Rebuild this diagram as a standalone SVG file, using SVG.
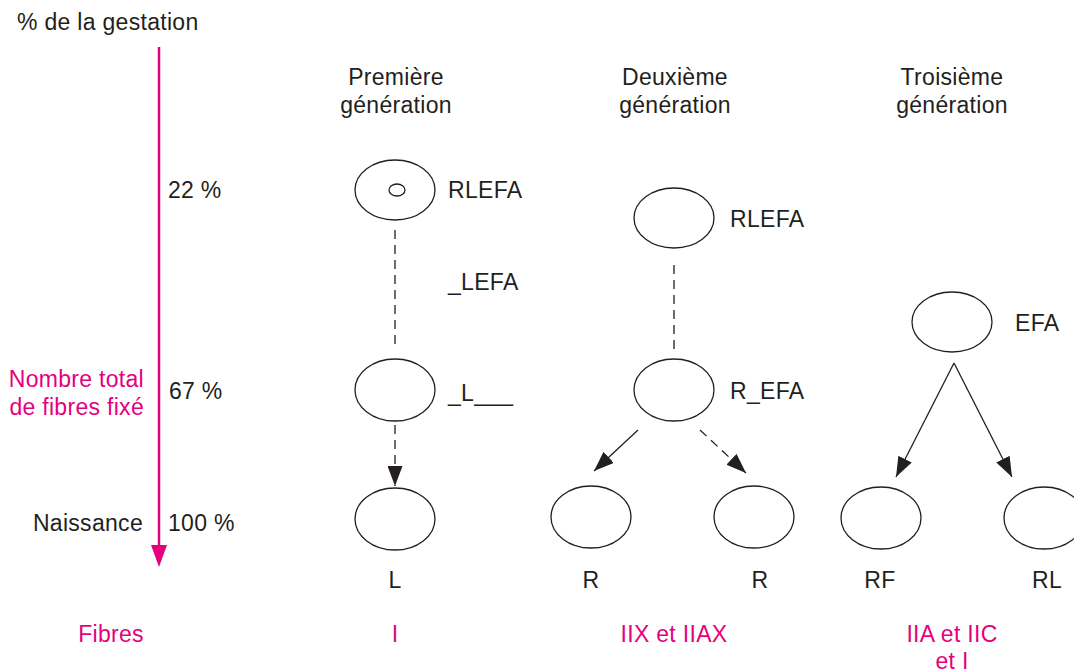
<svg xmlns="http://www.w3.org/2000/svg" width="1074" height="670" viewBox="0 0 1074 670">
  <defs>
    <style>
      text { font-family: "Liberation Sans", Arial, sans-serif; font-size: 23px; letter-spacing: 0.3px; fill: #231f20; }
      .mag { fill: #e6007e; }
      .mid { text-anchor: middle; }
      .end { text-anchor: end; }
      .node { fill: none; stroke: #231f20; stroke-width: 1.3; }
      .edge { fill: none; stroke: #231f20; stroke-width: 1.3; }
      .dash { stroke-dasharray: 9 6; }
    </style>
    <marker id="arr" viewBox="0 0 20 15" refX="20" refY="7.5" markerWidth="20" markerHeight="15" markerUnits="userSpaceOnUse" orient="auto">
      <path d="M0,0 L20,7.5 L0,15 Z" fill="#231f20"/>
    </marker>
  </defs>

  <rect width="1074" height="670" fill="#ffffff"/>

  <!-- time axis -->
  <g id="axis">
    <text x="17" y="30">% de la gestation</text>
    <line x1="159" y1="47" x2="159" y2="548" stroke="#e6007e" stroke-width="2.5"/>
    <path d="M151,545 L167,545 L159,567 Z" fill="#e6007e"/>
    <text x="168" y="198">22 %</text>
    <text x="169" y="399">67 %</text>
    <text x="168" y="531">100 %</text>
    <text class="end" x="143" y="531">Naissance</text>
    <text class="mag end" x="144" y="387">Nombre total</text>
    <text class="mag end" x="144" y="415">de fibres fixé</text>
    <text class="mag mid" x="111" y="642">Fibres</text>
  </g>

  <!-- column headings -->
  <g id="headings">
    <text class="mid" x="396" y="85">Première</text>
    <text class="mid" x="396" y="113">génération</text>
    <text class="mid" x="675" y="85">Deuxième</text>
    <text class="mid" x="675" y="113">génération</text>
    <text class="mid" x="952" y="85">Troisième</text>
    <text class="mid" x="952" y="113">génération</text>
  </g>

  <!-- connectors -->
  <g id="connectors">
    <line class="edge dash" x1="395" y1="230" x2="395" y2="345"/>
    <line class="edge dash" x1="395" y1="425" x2="395" y2="486" marker-end="url(#arr)"/>
    <line class="edge dash" x1="674" y1="265" x2="674" y2="352"/>
    <line class="edge" x1="638" y1="430" x2="594" y2="471" marker-end="url(#arr)"/>
    <line class="edge dash" x1="700" y1="430" x2="746" y2="473" marker-end="url(#arr)"/>
    <line class="edge" x1="954" y1="363" x2="896" y2="477" marker-end="url(#arr)"/>
    <line class="edge" x1="954" y1="363" x2="1012" y2="477" marker-end="url(#arr)"/>
  </g>

  <!-- first generation -->
  <g id="g1-top">
    <ellipse class="node" cx="395" cy="190" rx="40" ry="30"/>
    <ellipse class="node" cx="397" cy="190" rx="8" ry="6"/>
    <text x="448" y="198">RLEFA</text>
    <text x="448" y="290">_LEFA</text>
  </g>
  <g id="g1-mid">
    <ellipse class="node" cx="395" cy="390" rx="40" ry="31"/>
    <text x="448" y="401">_L___</text>
  </g>
  <g id="g1-bottom">
    <ellipse class="node" cx="395" cy="519" rx="40" ry="31"/>
    <text class="mid" x="395" y="588">L</text>
    <text class="mag mid" x="395" y="642">I</text>
  </g>

  <!-- second generation -->
  <g id="g2-top">
    <ellipse class="node" cx="674" cy="218" rx="40" ry="30"/>
    <text x="730" y="227">RLEFA</text>
  </g>
  <g id="g2-mid">
    <ellipse class="node" cx="674" cy="390" rx="40" ry="31"/>
    <text x="730" y="399">R_EFA</text>
  </g>
  <g id="g2-left">
    <ellipse class="node" cx="591" cy="517" rx="40" ry="31"/>
    <text class="mid" x="591" y="588">R</text>
  </g>
  <g id="g2-right">
    <ellipse class="node" cx="754" cy="517" rx="40" ry="31"/>
    <text class="mid" x="760" y="588">R</text>
  </g>
  <text class="mag mid" x="674" y="642">IIX et IIAX</text>

  <!-- third generation -->
  <g id="g3-top">
    <ellipse class="node" cx="952" cy="322" rx="40" ry="30"/>
    <text x="1015" y="331">EFA</text>
  </g>
  <g id="g3-left">
    <ellipse class="node" cx="881" cy="518" rx="40" ry="31"/>
    <text class="mid" x="880" y="588">RF</text>
  </g>
  <g id="g3-right">
    <ellipse class="node" cx="1044" cy="518" rx="40" ry="31"/>
    <text class="mid" x="1047" y="588">RL</text>
  </g>
  <text class="mag mid" x="952" y="642">IIA et IIC</text>
  <text class="mag mid" x="952" y="669">et I</text>
</svg>
